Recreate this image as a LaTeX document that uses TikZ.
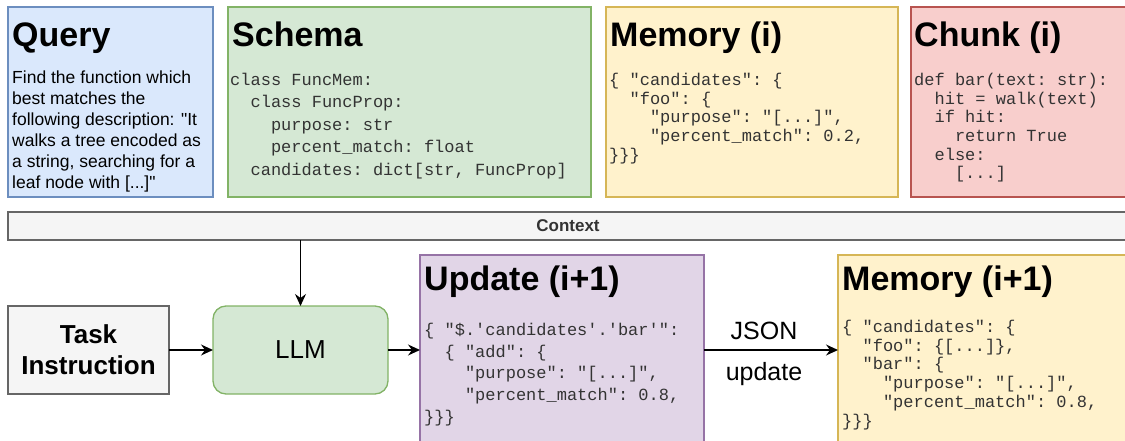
\documentclass[tikz,border=0pt]{standalone}
\usepackage{fontspec}
\setmainfont{Liberation Sans}
\setmonofont{Liberation Mono}
\newfontfamily\plainsans{Liberation Sans}
\usetikzlibrary{arrows.meta}
\definecolor{qfill}{HTML}{DAE8FC}\definecolor{qdraw}{HTML}{6C8EBF}
\definecolor{gfill}{HTML}{D5E8D4}\definecolor{gdraw}{HTML}{82B366}
\definecolor{yfill}{HTML}{FFF2CC}\definecolor{ydraw}{HTML}{D6B656}
\definecolor{rfill}{HTML}{F8CECC}\definecolor{rdraw}{HTML}{B85450}
\definecolor{pfill}{HTML}{E1D5E7}\definecolor{pdraw}{HTML}{9673A6}
\definecolor{nfill}{HTML}{F5F5F5}\definecolor{ndraw}{HTML}{666666}
\definecolor{ctxt}{HTML}{333333}
\newcommand\natsp{\spaceskip=0pt\xspaceskip=0pt\relax}
\begin{document}
\begin{tikzpicture}[x=1pt,y=-1pt,
  box/.style={draw, line width=1.3pt, anchor=north west, inner sep=0pt, outer sep=0pt},
  ttl/.style={anchor=base west, inner sep=0pt, font=\fontsize{34}{40}\selectfont\bfseries},
  body/.style={anchor=base west, inner sep=0pt, text width=240pt, align=left},
  code/.style={anchor=base west, inner sep=0pt, text width=400pt, align=left, text=black!80},
  arr/.style={line width=1.3pt, -{Stealth[length=12pt,width=11pt,inset=4pt]}},
  lbl/.style={anchor=base, inner sep=0pt, font=\fontsize{25}{30}\selectfont}]
\useasboundingbox (0,0) rectangle (1125,441);
\clip (0,0) rectangle (1125,441);
% top row boxes
\node[box, fill=qfill, draw=qdraw, minimum width=205pt, minimum height=190pt] (q) at (8,7) {};
\node[box, fill=gfill, draw=gdraw, minimum width=363pt, minimum height=190pt] (s) at (228,7) {};
\node[box, fill=yfill, draw=ydraw, minimum width=292pt, minimum height=190pt] (m) at (606,7) {};
\node[box, fill=rfill, draw=rdraw, minimum width=240pt, minimum height=190pt] (c) at (911,7) {};
% context bar
\node[box, fill=nfill, draw=ndraw, minimum width=1140pt, minimum height=28pt] (ctx) at (8,212) {};
\node[anchor=base, inner sep=0pt, text=ctxt, font=\fontsize{17}{20}\selectfont\bfseries] (ctxl) at (568,231) {Context};
% bottom row
\node[box, fill=nfill, draw=ndraw, minimum width=161pt, minimum height=88pt] (task) at (8,306) {};
\node[box, fill=gfill, draw=gdraw, minimum width=175pt, minimum height=88pt, rounded corners=13pt] (llm) at (213,306) {};
\node[box, fill=pfill, draw=pdraw, minimum width=284pt, minimum height=220pt] (upd) at (420,255) {};
\node[box, fill=yfill, draw=ydraw, minimum width=320pt, minimum height=220pt] (m2) at (838,255) {};
% titles
\node[ttl] (qt) at (12,47) {Query};
\node[ttl] (st) at (232,47) {Schema};
\node[ttl] (mt) at (610,47) {Memory (i)};
\node[ttl] (ct) at (914,47) {Chunk (i)};
\node[ttl] (ut) at (424,290) {Update (i+1)};
\node[ttl] (m2t) at (842,290) {Memory (i+1)};
% query body
\node[body, font=\fontsize{17.5}{21}\selectfont\plainsans] (qb) at (12,84) {\natsp Find the function which\\best matches the\\following description: "It\\walks a tree encoded as\\a string, searching for a\\leaf node with [...]"};
% schema code
\node[code, font=\fontsize{17}{22.4}\selectfont\ttfamily] (sc) at (230,85.5) {\natsp class FuncMem:\\~~class FuncProp:\\~~~~purpose: str\\~~~~percent\_match: float\\~~candidates: dict[str, FuncProp]};
% memory i code
\node[code, font=\fontsize{17}{18.7}\selectfont\ttfamily] (mc) at (609,85.5) {\natsp\{ "candidates": \{\\~~"foo": \{\\~~~~"purpose": "[...]",\\~~~~"percent\_match": 0.2,\\\}\}\}};
% chunk code
\node[code, font=\fontsize{17}{18.7}\selectfont\ttfamily] (cc) at (914,85.5) {\natsp def bar(text: str):\\~~hit = walk(text)\\~~if hit:\\~~~~return True\\~~else:\\~~~~[...]};
% task / llm labels
\node[anchor=center, inner sep=0pt, align=center, font=\fontsize{26}{31}\selectfont\bfseries] (tl) at (task.center) {Task\\Instruction};
\node[anchor=center, inner sep=0pt, font=\fontsize{26}{30}\selectfont] (ll) at (llm.center) {LLM};
% update code
\node[code, font=\fontsize{17}{21.7}\selectfont\ttfamily] (uc) at (424,335.5) {\natsp\{ "\$.'candidates'.'bar'":\\~~\{ "add": \{\\~~~~"purpose": "[...]",\\~~~~"percent\_match": 0.8,\\\}\}\}};
% memory i+1 code
\node[code, font=\fontsize{17}{18.7}\selectfont\ttfamily] (m2c) at (842,332.5) {\natsp\{ "candidates": \{\\~~"foo": \{[...]\},\\~~"bar": \{\\~~~~"purpose": "[...]",\\~~~~"percent\_match": 0.8,\\\}\}\}};
% labels
\node[lbl] (jl) at (764,339) {JSON};
\node[lbl] (ul) at (764,380) {update};
% connectors
\draw[arr] (llm.north |- ctx.south) -- (llm.north);
\draw[arr] (task.east) -- (llm.west);
\draw[arr] (llm.east) -- (llm.east -| upd.west);
\draw[arr] (llm.east -| upd.east) -- (llm.east -| m2.west);
\end{tikzpicture}
\end{document}
